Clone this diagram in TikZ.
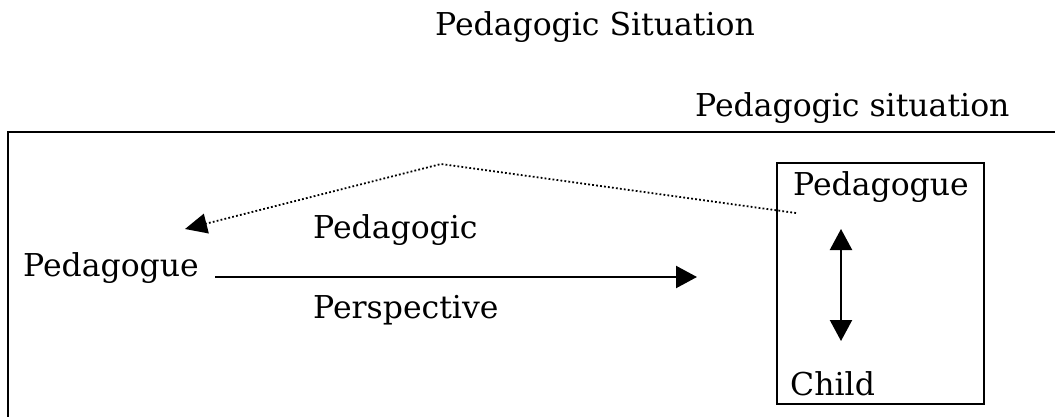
\documentclass[tikz,border=0pt]{standalone}
\usepackage{fontspec}
\setmainfont{DejaVu Serif}
\usetikzlibrary{arrows.meta}
\tikzset{
  lbl/.style={anchor=base west,inner sep=0pt,font=\fontsize{31.5}{38}\selectfont},
  frame/.style={line width=2.4pt},
  solidarrow/.style={line width=2.2pt,-{Triangle[length=21pt,width=22pt]}},
  dblarrow/.style={line width=2.2pt,{Triangle[length=21pt,width=22pt]}-{Triangle[length=21pt,width=22pt]}},
  dotline/.style={line width=1.8pt,dash pattern=on 1.8pt off 2.2pt,-{Triangle[length=22pt,width=20pt]}}
}
\begin{document}
\begin{tikzpicture}[x=1pt,y=-1pt]
\useasboundingbox (0,0) rectangle (1055,417);
% outer frame (clipped at right and bottom)
\begin{scope}
\clip (0,0) rectangle (1055,417);
\draw[frame] (8,430) -- (8,132) -- (1070,132);
\end{scope}
% inner box
\draw[frame] (777,163) rectangle (984,404);
% texts
\node[lbl] (title) at (435,36) {Pedagogic Situation};
\node[lbl] (sit) at (695,117) {Pedagogic situation};
\node[lbl] (ped) at (23,276) {Pedagogue};
\node[lbl] (pedc) at (313,238) {Pedagogic};
\node[lbl] (persp) at (313,318) {Perspective};
\node[lbl] (pin) at (793,195) {Pedagogue};
\node[lbl] (child) at (790,395) {Child};
% connectors
\coordinate (hs) at (215,277);
\coordinate (he) at (697,277);
\draw[solidarrow] (hs) -- (he);
\coordinate (vt) at (841,229);
\coordinate (vb) at (841,341);
\draw[dblarrow] (vt) -- (vb);
\coordinate (ds) at (796,213);
\coordinate (dp) at (441,164);
\coordinate (de) at (185,229);
\draw[dotline] (ds) -- (dp) -- (de);
\end{tikzpicture}
\end{document}
